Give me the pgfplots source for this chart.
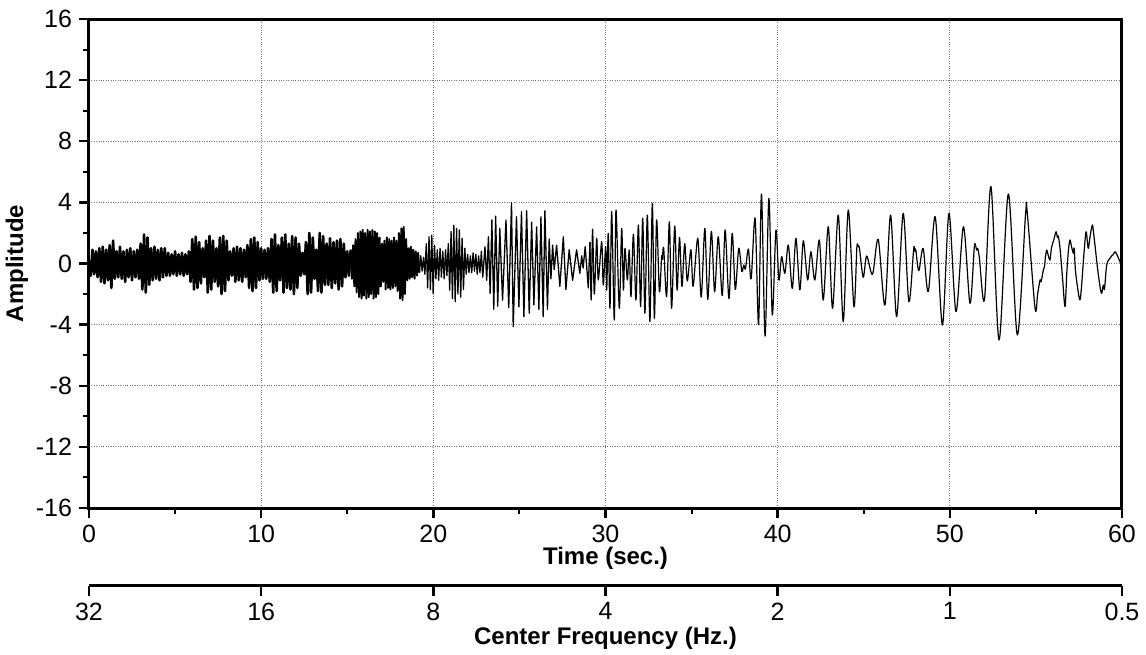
\documentclass[border=0pt]{standalone}
\usepackage{pgfplots}
\pgfplotsset{compat=1.18}
\usepackage{fontspec}
\setmainfont{Liberation Sans}
\begin{document}
\begin{tikzpicture}[font=\fontsize{12}{14.4}\selectfont]
\begin{axis}[
  at={(0,0)}, anchor=south west,
  scale only axis, width=516.5pt, height=244.5pt,
  xmin=0, xmax=60, ymin=-16, ymax=16,
  xtick={0,10,20,30,40,50,60}, xticklabels={0,10,20,30,40,50,60},
  ytick={-16,-12,-8,-4,0,4,8,12,16}, yticklabels={-16,-12,-8,-4,0,4,8,12,16},
  minor xtick={5,15,25,35,45,55}, minor ytick={-14,-10,-6,-2,2,6,10,14},
  tick label style={font=\fontsize{12.5}{15}\selectfont},
  tick pos=left, tick align=outside,
  major tick length=5pt, minor tick length=3pt,
  tick style={black, line width=1.2pt},
  minor tick style={black, line width=1pt},
  axis line style={line width=1.5pt},
  grid=major,
  major grid style={black!55, line width=0.45pt, dash pattern=on 0.45pt off 0.75pt},
  xlabel={\textbf{Time (sec.)}},
  ylabel={\textbf{Amplitude}},
  xlabel style={at={(axis description cs:0.5,-0.102)}, anchor=center},
  ylabel style={at={(axis description cs:-0.0697,0.5)}, anchor=center},
]
\addplot[black, line width=1.3pt, line join=round] coordinates {
(0,0.2)(0.1,-0.8)(0.2,0.9)(0.3,-0.7)(0.4,0.8)(0.5,-0.9)(0.6,1.0)(0.7,-1.2)(0.8,1.1)(0.9,-1.3)(1.0,0.9)(1.1,-1.1)(1.2,1.2)(1.3,-1.6)(1.4,1.5)(1.5,-1.0)(1.6,0.8)(1.7,-0.9)(1.8,1.1)(1.9,-1.0)(2.0,0.8)(2.1,-1.2)(2.2,0.9)(2.3,-0.9)(2.4,1.0)(2.5,-1.1)(2.6,0.8)(2.7,-0.9)(2.8,0.9)(2.9,-1.0)(3.0,1.3)(3.1,-1.7)(3.2,1.9)(3.3,-1.9)(3.4,1.7)(3.5,-1.4)(3.6,1.0)(3.7,-1.1)(3.8,1.1)(3.9,-1.0)(4.0,0.9)(4.1,-1.1)(4.2,1.0)(4.3,-0.9)(4.4,1.0)(4.5,-0.8)(4.6,0.7)(4.7,-0.8)(4.8,0.6)(4.9,-0.7)(5.0,0.8)(5.1,-0.8)(5.2,0.6)(5.3,-0.7)(5.4,0.7)(5.5,-0.8)(5.6,0.6)(5.7,-0.7)(5.8,0.8)(5.9,-1.2)(6.0,1.6)(6.1,-1.7)(6.2,1.75)(6.3,-1.6)(6.4,1.4)(6.5,-1.3)(6.6,1.0)(6.7,-0.9)(6.8,1.5)(6.9,-1.9)(7.0,1.8)(7.1,-1.7)(7.2,1.5)(7.3,-1.2)(7.4,1.0)(7.5,-1.5)(7.6,1.7)(7.7,-2.0)(7.8,1.8)(7.9,-1.8)(8.0,1.5)(8.1,-1.1)(8.2,0.8)(8.3,-0.8)(8.4,1.0)(8.5,-1.2)(8.6,1.1)(8.7,-1.1)(8.8,1.0)(8.9,-1.2)(9.0,0.9)(9.1,-0.9)(9.2,1.2)(9.3,-1.6)(9.4,1.6)(9.5,-1.8)(9.6,1.7)(9.7,-1.6)(9.8,1.4)(9.9,-1.1)(10.0,1.0)(10.1,-1.0)(10.2,0.9)(10.3,-1.0)(10.4,1.0)(10.5,-1.2)(10.6,1.6)(10.7,-1.9)(10.8,1.9)(10.9,-1.8)(11.0,1.2)(11.1,-1.1)(11.2,1.7)(11.3,-1.9)(11.4,1.9)(11.5,-1.6)(11.6,1.3)(11.7,-1.7)(11.8,1.8)(11.9,-2.0)(12.0,1.7)(12.1,-1.6)(12.2,1.3)(12.3,-0.8)(12.4,0.7)(12.5,-0.7)(12.6,1.4)(12.7,-2.0)(12.8,2.0)(12.9,-1.9)(13.0,1.7)(13.1,-1.0)(13.2,0.9)(13.3,-1.8)(13.4,2.0)(13.5,-1.9)(13.6,1.8)(13.7,-1.4)(13.8,1.3)(13.9,-1.4)(14.0,1.65)(14.1,-1.6)(14.2,1.4)(14.3,-1.3)(14.4,1.5)(14.5,-1.7)(14.6,1.6)(14.7,-1.5)(14.8,1.3)(14.9,-0.9)(15.0,0.8)(15.1,-0.8)(15.2,0.9)
};
\addplot[black, line width=0.95pt, line join=round] coordinates {
(15.2,0.9)(15.27,-1.0)(15.34,1.2)(15.41,-1.5)(15.48,1.6)(15.55,-1.9)(15.62,2.0)(15.69,-2.2)(15.76,2.1)(15.83,-2.3)(15.90,2.2)(15.97,-2.1)(16.04,2.0)(16.11,-2.3)(16.18,2.2)(16.25,-2.2)(16.32,2.1)(16.39,-2.0)(16.46,2.2)(16.53,-2.3)(16.60,2.1)(16.67,-2.2)(16.74,2.0)(16.81,-2.0)(16.88,1.7)(16.95,-1.5)(17.02,1.3)(17.09,-1.2)(17.16,1.5)(17.23,-1.7)(17.30,1.7)(17.37,-1.6)(17.44,1.6)(17.51,-1.7)(17.58,1.5)(17.65,-1.6)(17.72,1.7)(17.79,-1.5)(17.86,1.5)(17.93,-1.8)(18.00,2.0)(18.07,-2.3)(18.14,2.3)(18.21,-2.4)(18.28,2.4)(18.35,-2.0)(18.42,1.6)(18.49,-1.1)(18.56,1.0)(18.63,-1.0)(18.70,1.1)(18.77,-0.9)(18.84,0.9)(18.91,-1.0)(18.98,0.8)(19.05,-0.8)(19.12,0.7)(19.19,-0.6)
};
\addplot[black, line width=0.65pt, line join=round] coordinates {
(19.19,-0.6)(19.27,0.5)(19.35,-0.5)(19.43,0.4)(19.51,-0.7)(19.59,1.3)(19.67,-1.6)(19.75,1.75)(19.83,-1.7)(19.91,1.85)(19.99,-1.95)(20.07,1.2)(20.15,-1.0)(20.23,0.9)(20.31,-1.1)(20.39,1.0)(20.47,-0.9)(20.55,0.8)(20.63,-1.0)(20.71,0.9)(20.79,-0.8)(20.87,1.3)(20.95,-1.75)(21.03,2.1)(21.11,-2.3)(21.19,2.5)(21.27,-2.5)(21.35,2.3)(21.43,-2.0)(21.51,2.2)(21.59,-2.2)(21.67,1.65)(21.75,-1.7)(21.83,1.0)(21.91,-0.7)(21.99,0.6)(22.07,-0.6)(22.15,0.5)(22.23,-0.6)(22.31,0.7)(22.39,-0.5)(22.47,0.6)(22.55,-0.7)(22.63,0.5)(22.71,-0.6)(22.79,0.8)(22.87,-0.9)
(23.0,1.1)(23.1,-1.1)(23.2,1.75)(23.3,-1.95)(23.4,2.85)(23.51,-3.0)(23.62,3.1)(23.74,-2.8)(23.86,2.3)(24.02,-2.4)(24.22,2.85)(24.38,-2.9)(24.54,3.98)(24.64,-4.13)(24.83,3.06)(24.97,-2.83)(25.12,3.4)(25.26,-3.48)(25.42,3.45)(25.57,-3.26)(25.71,2.7)(25.84,-2.7)(26.0,2.4)(26.13,-3.0)(26.25,3.06)(26.38,-3.48)(26.48,3.45)(26.63,-3.0)(26.73,1.6)(26.83,-1.0)(26.93,1.2)(27.02,-0.4)(27.16,1.2)(27.35,-1.5)(27.55,1.75)(27.7,-1.7)(27.89,0.9)(28.09,-1.1)(28.32,0.9)(28.51,-0.64)(28.62,0.5)(28.7,-0.3)(28.82,1.1)(29.0,-1.6)(29.1,1.4)
};
\addplot[black, line width=0.6pt, line join=round, smooth, tension=0.5] coordinates {
(29.1,1.4)(29.17,-2.39)(29.25,2.24)(29.35,-2.0)(29.49,1.65)(29.58,-1.08)(29.78,1.43)(29.87,-1.41)(30.01,1.1)(30.07,-1.74)(30.16,1.97)(30.26,-2.93)(30.36,3.4)(30.51,-3.7)(30.61,3.5)(30.8,-2.93)(30.94,2.3)(31.04,-1.74)(31.13,1.0)(31.27,-1.08)(31.38,0.88)(31.48,-2.17)(31.62,1.9)(31.77,-2.39)(31.91,2.52)(32.04,-2.82)(32.16,2.96)(32.29,-3.26)(32.43,3.17)(32.58,-3.8)(32.72,3.94)(32.84,-3.59)(32.97,2.85)(33.13,-1.84)(33.26,0.45)(33.3,0.25)(33.38,0.99)(33.55,-2.17)(33.71,2.73)(33.84,-2.93)(34.02,2.45)(34.16,-1.74)(34.3,1.7)(34.44,-1.5)(34.6,1.3)(34.75,-1.15)(34.96,0.9)(35.09,-1.5)(35.36,1.65)(35.56,-2.2)(35.77,2.3)(35.94,-2.35)(36.15,2.1)(36.34,-1.85)(36.55,1.75)(36.78,-2.1)(36.95,2.2)(37.17,-2.3)(37.36,1.97)(37.54,-1.7)(37.74,1.0)(37.92,-0.53)(38.03,-0.1)(38.13,-0.35)(38.3,0.95)(38.46,-1.0)(38.69,2.96)(38.89,-4.0)(39.06,4.55)(39.27,-4.75)(39.49,4.26)(39.69,-3.37)(39.9,2.19)(40.07,-1.08)(40.23,0.45)(40.42,-0.64)(40.62,1.21)(40.85,-1.63)(41.06,1.65)(41.29,-1.73)(41.49,1.49)(41.74,-1.08)(41.93,0.77)(42.16,-1.08)(42.42,1.54)(42.65,-2.39)(42.94,2.41)(43.19,-2.93)(43.52,3.17)(43.81,-3.81)(44.1,3.5)(44.43,-2.82)(44.6,1.05)(44.68,1.1)(44.75,1.0)(44.97,-0.9)(45.17,0.49)(45.51,-0.71)(45.84,1.58)(46.23,-2.72)(46.56,3.17)(46.91,-3.48)(47.29,3.28)(47.62,-2.5)(47.9,0.95)(47.96,0.8)(48.02,0.9)(48.2,-0.47)(48.45,0.99)(48.75,-1.84)(49.15,3.06)(49.57,-4.03)(49.95,3.28)(50.36,-3.15)(50.79,2.41)(51.17,-2.61)(51.42,1.05)(51.5,1.15)(51.56,0.88)(51.62,0.98)(51.72,0.34)(52.01,-2.39)(52.39,5.03)(52.86,-5.01)(53.4,4.55)(53.92,-4.68)(54.4,3.25)(54.5,3.3)(54.95,-2.93)(55.1,-2.0)(55.24,-1.08)(55.3,-1.2)(55.43,-0.43)(55.5,-0.2)(55.55,0.4)(55.63,0.88)(55.7,0.6)(55.82,0.23)(55.9,1.0)(56.05,1.6)(56.17,2.08)(56.25,1.7)(56.3,1.8)(56.4,1.0)(56.55,-1.0)(56.69,-2.82)(56.8,-0.5)(56.9,1.0)(56.98,1.54)(57.05,1.2)(57.17,0.67)(57.22,1.0)(57.3,-0.5)(57.45,-1.8)(57.56,-2.39)(57.65,-1.5)(57.78,0.5)(57.91,2.08)(58.0,1.3)(58.05,1.0)(58.15,1.8)(58.28,2.52)(58.35,2.0)(58.45,1.0)(58.6,-0.5)(58.75,-1.7)(58.82,-1.95)(58.88,-1.6)(58.92,-1.41)(58.98,-1.7)(59.05,-0.8)(59.11,-0.1)(59.2,0.2)(59.3,0.34)(59.4,0.5)(59.5,0.6)(59.6,0.77)(59.7,0.6)(59.85,0.2)(59.98,-0.1)(60,-0.1)
};
\end{axis}
\begin{axis}[
  at={(0,-38.85pt)}, anchor=south west,
  scale only axis, width=516.5pt, height=10pt,
  xmin=0, xmax=60, ymin=0, ymax=1,
  axis x line*=bottom, hide y axis,
  xtick={0,10,20,30,40,50,60}, xticklabels={32,16,8,4,2,1,0.5},
  tick label style={font=\fontsize{12.5}{15}\selectfont},
  tick align=outside, major tick length=5pt,
  tick style={black, line width=1.2pt},
  axis line style={line width=1.5pt},
  xlabel={\textbf{Center Frequency (Hz.)}},
  xlabel style={at={(axis description cs:0.5,0)}, yshift=-26.2pt, anchor=center},
]
\addplot[draw=none] coordinates {(0,0)(60,1)};
\end{axis}
\pgfresetboundingbox
\path[use as bounding box] (-44.5pt,-73pt) rectangle (528.5pt,254pt);
\end{tikzpicture}
\end{document}
